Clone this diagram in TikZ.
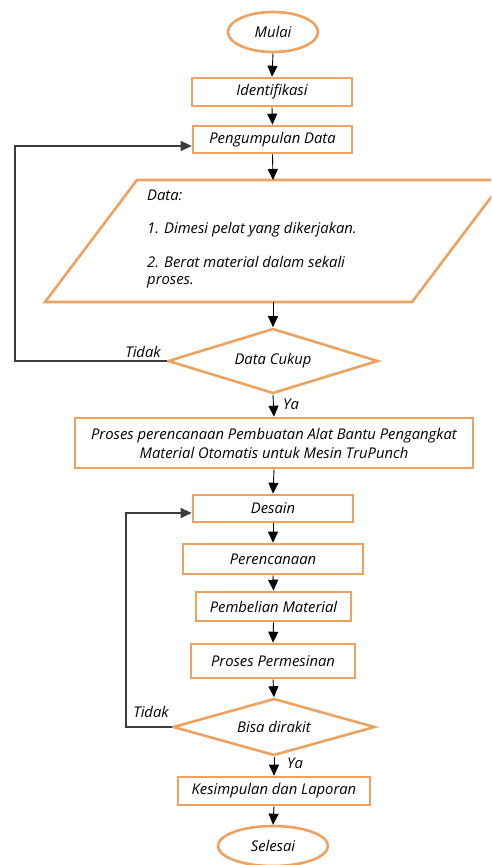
\documentclass[tikz,border=0pt]{standalone}
\usepackage{fontspec}
\setmainfont{Open Sans}
\usetikzlibrary{arrows.meta,shapes.geometric}
\definecolor{orng}{RGB}{238,162,98}
\definecolor{lin}{RGB}{60,60,60}
\begin{document}
\begin{tikzpicture}[x=1pt,y=-1pt,
  font=\fontsize{14.8}{18}\selectfont\itshape,
  box/.style={draw=orng,line width=2.6pt,minimum height=28pt,inner sep=0pt},
  term/.style={ellipse,draw=orng,line width=2.6pt,minimum width=90pt,minimum height=40pt,inner sep=0pt},
  dec/.style={diamond,aspect=3.3,draw=orng,line width=2.6pt,inner sep=0pt},
  arr/.style={-{Triangle[width=10pt,length=11pt]},line width=0.9pt,draw=black},
  loopline/.style={-{Triangle[width=10pt,length=11pt]},line width=1.2pt,draw=lin},
  txt/.style={inner sep=0pt}]
\clip (0,0) rectangle (491,865);
\fill[white] (0,0) rectangle (491,865);

\node[term] (mulai) at (273,32) {Mulai};
\node[box,minimum width=160pt] (ident) at (272,92) {Identifikasi};
\node[box,minimum width=159pt,minimum height=27pt] (kumpul) at (272.5,139.5) {Pengumpulan Data};

\draw[orng,line width=2.6pt,line join=miter] (137,180) -- (504,180) -- (412,302) -- (45,302) -- cycle;
\coordinate (ptop) at (273,180);
\coordinate (pbot) at (273,302);
\node[txt,anchor=west] (dt0) at (147,195) {Data:};
\node[txt,anchor=west] (dt1) at (147,230) {1. Dimesi pelat yang dikerjakan.};
\node[txt,anchor=west] (dt2) at (147,262) {2. Berat material dalam sekali};
\node[txt,anchor=west] (dt3) at (147,282) {proses.};

\node[dec,minimum width=210pt,minimum height=65pt] (cukup) at (273,361) {Data Cukup};
\node[box,minimum width=398pt,minimum height=50pt,align=center] (proses) at (274,443)
  {Proses perencanaan Pembuatan Alat Bantu Pengangkat\\[1pt]Material Otomatis untuk Mesin TruPunch};
\node[box,minimum width=160pt,minimum height=27pt] (desain) at (273,508.5) {Desain};
\node[box,minimum width=180pt,minimum height=30pt] (renc) at (273,559) {Perencanaan};
\node[box,minimum width=155pt,minimum height=29pt] (beli) at (273.5,606.5) {Pembelian Material};
\node[box,minimum width=164pt,minimum height=34pt] (mesin) at (273,661) {Proses Permesinan};
\node[dec,minimum width=202pt,minimum height=57pt] (rakit) at (274,727) {Bisa dirakit};
\node[box,minimum width=192pt,minimum height=28pt] (kesim) at (274,791) {Kesimpulan dan Laporan};
\node[term,minimum width=110pt] (selesai) at (273,846) {Selesai};

\draw[arr] (mulai.south) -- (ident.north);
\draw[arr] (ident.south) -- (kumpul.north);
\draw[arr] (kumpul.south) -- (ptop);
\draw[arr] (pbot) -- (cukup.north);
\draw[arr] (cukup.south) -- (proses.north);
\draw[arr] (proses.south) -- (desain.north);
\draw[arr] (desain.south) -- (renc.north);
\draw[arr] (renc.south) -- (beli.north);
\draw[arr] (beli.south) -- (mesin.north);
\draw[arr] (mesin.south) -- (rakit.north);
\draw[arr] (rakit.south) -- (kesim.north);
\draw[arr] (kesim.south) -- (selesai.north);

\coordinate (l1) at (15,146);
\draw[loopline] (cukup.west) -| (l1) -- (l1 -| kumpul.west);
\coordinate (l2) at (126,513);
\draw[loopline] (rakit.west) -| (l2) -- (l2 -| desain.west);

\node[txt] (t1) at (143,352) {Tidak};
\node[txt] (t2) at (151,712) {Tidak};
\node[txt] (y1) at (291,404) {Ya};
\node[txt] (y2) at (295,763) {Ya};
\end{tikzpicture}
\end{document}
